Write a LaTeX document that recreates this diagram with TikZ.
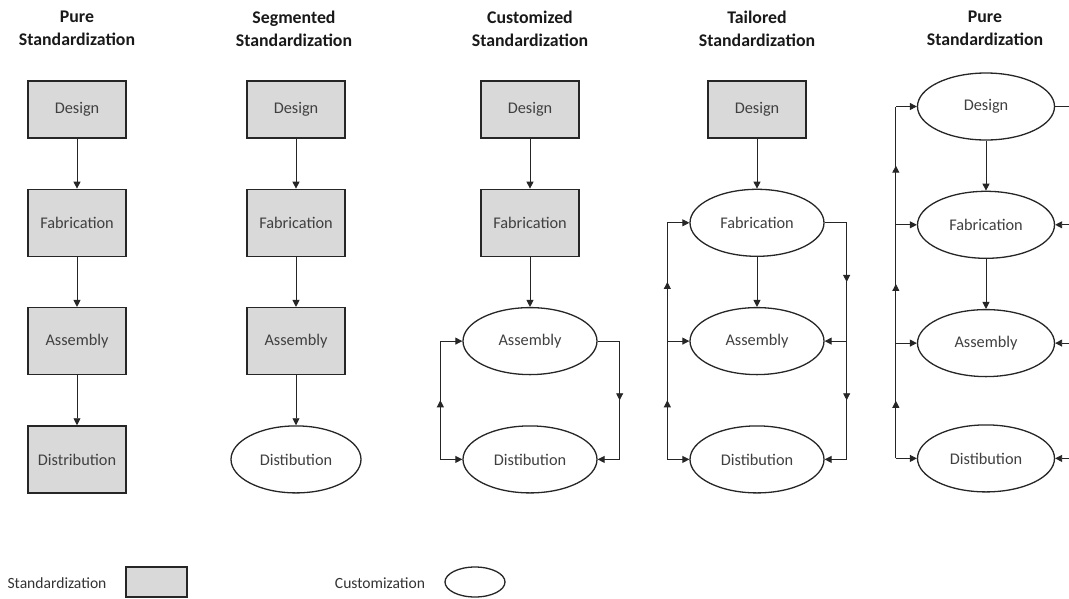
\documentclass[tikz,border=0pt]{standalone}
\usepackage{fontspec}
\setmainfont{Carlito}
\usetikzlibrary{positioning,arrows.meta,decorations.markings,shapes.geometric}

\tikzset{
  stdbox/.style={rectangle, draw=black!85, line width=1.3pt, fill=black!15,
    minimum width=98pt, minimum height=67pt, inner sep=0pt,
    text=black!75, font=\fontsize{16.3}{19}\selectfont},
  topbox/.style={stdbox, minimum height=57pt},
  custell/.style={ellipse, draw=black!85, line width=1.3pt, fill=white,
    minimum width=134pt, minimum height=67pt, inner sep=0pt,
    text=black!75, font=\fontsize{16.3}{19}\selectfont},
  title/.style={align=center, text=black!90, font=\bfseries\fontsize{17.8}{23}\selectfont},
  legtext/.style={text=black!80, font=\fontsize{15.6}{18}\selectfont},
  link/.style={draw=black!85, line width=0.9pt},
  flow/.style={link, -{Triangle[width=7pt,length=7pt]}},
  midtip/.style={link, decoration={markings,
    mark=at position 0.5 with {\arrow{Triangle[width=7pt,length=7pt]}}},
    postaction={decorate}},
}

\begin{document}
\begin{tikzpicture}[x=1pt, y=-1pt, node distance=50pt]
  \useasboundingbox (0,0) rectangle (1069,598);

  % titles
  \node[title] (t1) at (77,28.5) {Pure\\Standardization};
  \node[title] (t2) at (294,28.5) {Segmented\\Standardization};
  \node[title] (t3) at (530,28.5) {Customized\\Standardization};
  \node[title] (t4) at (757,28.5) {Tailored\\Standardization};
  \node[title] (t5) at (985,28.5) {Pure\\Standardization};

  % pure standardization
  \node[topbox] (c1Design) at (77,109.5) {Design};
  \node[stdbox, below=of c1Design] (c1Fab) {Fabrication};
  \node[stdbox, below=of c1Fab] (c1Ass) {Assembly};
  \node[stdbox, below=of c1Ass] (c1Dist) {Distribution};
  \draw[flow] (c1Design) -- (c1Fab);
  \draw[flow] (c1Fab) -- (c1Ass);
  \draw[flow] (c1Ass) -- (c1Dist);

  % segmented standardization
  \node[topbox] (c2Design) at (296,109.5) {Design};
  \node[stdbox, below=of c2Design] (c2Fab) {Fabrication};
  \node[stdbox, below=of c2Fab] (c2Ass) {Assembly};
  \node[custell, minimum width=130pt, below=of c2Ass] (c2Dist) {Distibution};
  \draw[flow] (c2Design) -- (c2Fab);
  \draw[flow] (c2Fab) -- (c2Ass);
  \draw[flow] (c2Ass) -- (c2Dist);

  % customized standardization
  \node[topbox] (c3Design) at (530,109.5) {Design};
  \node[stdbox, below=of c3Design] (c3Fab) {Fabrication};
  \node[custell, below=of c3Fab] (c3Ass) {Assembly};
  \node[custell, below=of c3Ass] (c3Dist) {Distibution};
  \draw[flow] (c3Design) -- (c3Fab);
  \draw[flow] (c3Fab) -- (c3Ass);
  \coordinate[left=22pt of c3Ass.west] (c3AssL);
  \coordinate[left=22pt of c3Dist.west] (c3DistL);
  \coordinate[right=22pt of c3Ass.east] (c3AssR);
  \coordinate[right=22pt of c3Dist.east] (c3DistR);
  \draw[flow] (c3DistL) -- (c3Dist.west);
  \draw[midtip] (c3DistL) -- (c3AssL);
  \draw[flow] (c3AssL) -- (c3Ass.west);
  \draw[link] (c3Ass.east) -- (c3AssR);
  \draw[midtip] (c3AssR) -- (c3DistR);
  \draw[flow] (c3DistR) -- (c3Dist.east);

  % tailored standardization
  \node[topbox] (c4Design) at (757,109.5) {Design};
  \node[custell, below=of c4Design] (c4Fab) {Fabrication};
  \node[custell, below=of c4Fab] (c4Ass) {Assembly};
  \node[custell, below=of c4Ass] (c4Dist) {Distibution};
  \draw[flow] (c4Design) -- (c4Fab);
  \draw[flow] (c4Fab) -- (c4Ass);
  \coordinate[left=22pt of c4Fab.west] (c4FabL);
  \coordinate[left=22pt of c4Ass.west] (c4AssL);
  \coordinate[left=22pt of c4Dist.west] (c4DistL);
  \coordinate[right=22pt of c4Fab.east] (c4FabR);
  \coordinate[right=22pt of c4Ass.east] (c4AssR);
  \coordinate[right=22pt of c4Dist.east] (c4DistR);
  \draw[flow] (c4DistL) -- (c4Dist.west);
  \draw[midtip] (c4DistL) -- (c4AssL);
  \draw[flow] (c4AssL) -- (c4Ass.west);
  \draw[midtip] (c4AssL) -- (c4FabL);
  \draw[flow] (c4FabL) -- (c4Fab.west);
  \draw[link] (c4Fab.east) -- (c4FabR);
  \draw[midtip] (c4FabR) -- (c4AssR);
  \draw[flow] (c4AssR) -- (c4Ass.east);
  \draw[midtip] (c4AssR) -- (c4DistR);
  \draw[flow] (c4DistR) -- (c4Dist.east);

  % pure customization (right edge cut off)
  \node[custell, minimum width=137pt] (c5Design) at (986,106.5) {Design};
  \node[custell, minimum width=137pt, below=of c5Design] (c5Fab) {Fabrication};
  \node[custell, minimum width=137pt, below=of c5Fab] (c5Ass) {Assembly};
  \node[custell, minimum width=137pt, below=47pt of c5Ass] (c5Dist) {Distibution};
  \draw[flow] (c5Design) -- (c5Fab);
  \draw[flow] (c5Fab) -- (c5Ass);
  \coordinate[left=21pt of c5Design.west] (c5DesignL);
  \coordinate[left=21pt of c5Fab.west] (c5FabL);
  \coordinate[left=21pt of c5Ass.west] (c5AssL);
  \coordinate[left=21pt of c5Dist.west] (c5DistL);
  \coordinate[right=22pt of c5Design.east] (c5DesignR);
  \coordinate[right=22pt of c5Fab.east] (c5FabR);
  \coordinate[right=22pt of c5Ass.east] (c5AssR);
  \coordinate[right=22pt of c5Dist.east] (c5DistR);
  \draw[flow] (c5DistL) -- (c5Dist.west);
  \draw[midtip] (c5DistL) -- (c5AssL);
  \draw[flow] (c5AssL) -- (c5Ass.west);
  \draw[midtip] (c5AssL) -- (c5FabL);
  \draw[flow] (c5FabL) -- (c5Fab.west);
  \draw[midtip] (c5FabL) -- (c5DesignL);
  \draw[flow] (c5DesignL) -- (c5Design.west);
  \draw[link] (c5Design.east) -- (c5DesignR);
  \draw[midtip] (c5DesignR) -- (c5FabR);
  \draw[flow] (c5FabR) -- (c5Fab.east);
  \draw[midtip] (c5FabR) -- (c5AssR);
  \draw[flow] (c5AssR) -- (c5Ass.east);
  \draw[midtip] (c5AssR) -- (c5DistR);
  \draw[flow] (c5DistR) -- (c5Dist.east);

  % legend
  \node[legtext] (lgStd) at (57,583) {Standardization};
  \node[stdbox, minimum width=61pt, minimum height=30pt] (lgBox) at (156.5,582) {};
  \node[legtext] (lgCus) at (380,583) {Customization};
  \node[custell, minimum width=60pt, minimum height=30pt] (lgEll) at (475,582) {};
\end{tikzpicture}
\end{document}
